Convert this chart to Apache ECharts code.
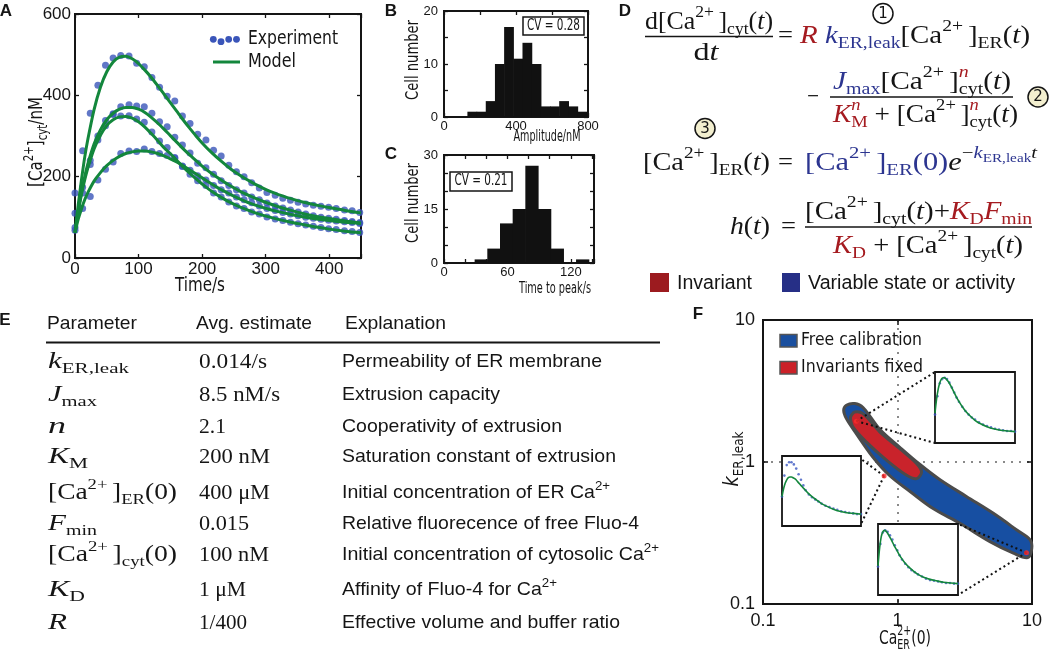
<!DOCTYPE html>
<html><head><meta charset="utf-8"><title>Ca2+ model figure</title>
<script src="https://cdn.jsdelivr.net/npm/echarts@6.0.0/dist/echarts.min.js"></script>
<style>html,body{margin:0;padding:0;background:#fff;}#chart{width:1050px;height:658px;}</style>
</head><body><div id="chart"></div>
<script>
// ================= DATA =================
// Panel A: experiment dots (4 cells) and model fits
const dotTime = [0,12,24,36,48,60,72,85,97,109,121,133,145,157,169,181,193,206,218,230,242,254,266,278,290,302,315,327,339,351,363,375,387,399,411,424,436,448];
const expTrace1 = [160,264,356,425,474,492,498,497,479,470,444,420,398,386,349,331,304,290,265,251,228,212,200,185,172,161,154,147,142,137,133,130,127,125,122,118,116,112];
const expTrace2 = [110,174,240,300,338,355,372,377,374,372,356,335,323,297,278,258,233,222,206,190,178,168,160,150,143,135,128,123,118,113,108,104,100,98,95,92,90,87];
const expTrace3 = [75,160,230,290,325,353,349,350,342,334,310,288,272,245,225,206,190,178,160,150,138,128,122,113,108,101,96,92,88,84,81,78,75,72,70,67,65,63];
const expTrace4 = [68,122,151,192,218,236,257,263,262,268,262,257,252,247,226,216,202,192,178,168,160,150,143,136,128,122,117,112,108,104,100,98,95,93,91,89,87,85];
const modelTime = [0,5,10,15,20,30,40,50,60,70,80,90,100,110,120,130,140,150,160,170,180,190,200,215,230,245,260,275,290,305,320,340,360,380,400,425,450];
const modelTrace1 = [62,130,190,245,290,365,420,458,482,494,496,490,478,462,444,424,403,382,361,340,320,301,283,259,238,219,203,189,176,165,156,146,137,130,124,117,111];
const modelTrace2 = [62,115,160,198,230,280,315,340,356,366,370,370,366,358,346,332,317,301,285,269,254,240,226,208,192,177,164,153,143,134,126,117,109,102,97,91,86];
const modelTrace3 = [62,112,155,190,220,268,302,326,340,347,348,344,335,322,306,289,271,257,240,224,209,195,182,164,149,136,125,116,108,101,95,88,82,76,71,66,62];
const modelTrace4 = [62,95,120,142,160,189,210,227,240,250,257,261,263,263,261,257,251,244,236,227,217,207,197,182,168,156,145,135,127,120,114,107,101,96,92,88,85];
const aXTickLabels = [0,100,200,300,400];
const aYTickLabels = [0,200,400,600];

// Panel B: amplitude histogram
const ampBinEdges = [130,181,232,283,334,385,436,487,538,589,640,691,742,793];
const ampCounts   = [1,1,3,10,17,11,14,10,2,2,3,2,1];
const bXTickLabels = [0,400,800];
const bYTickLabels = [0,10,20];
const ampCV = 'CV = 0.28';

// Panel C: time-to-peak histogram
const ttpBinEdges = [29,41,53,65,77,89,101,113,125,137];
const ttpCounts   = [1,4,11,15,27,15,4,0,1];
const cXTickLabels = [0,60,120];
const cYTickLabels = [0,15,30];
const ttpCV = 'CV = 0.21';

// Panel F: parameter regions (log-log)
const freeCalibrationOutline = [[0.398,2.31],[0.417,2.51],[0.481,2.58],[0.554,2.42],[0.738,1.70],[1.04,1.27],[1.47,0.96],[2.07,0.75],[3.27,0.57],[5.16,0.435],[7.71,0.332],[9.68,0.283],[9.95,0.245],[9.3,0.212],[7.27,0.228],[4.87,0.275],[2.91,0.37],[1.84,0.47],[1.24,0.62],[0.877,0.80],[0.658,1.08],[0.495,1.58],[0.417,2.02]];
const invariantsFixedOutline = [[0.447,2.02],[0.454,2.13],[0.481,2.25],[0.554,2.19],[0.738,1.63],[1.04,1.24],[1.39,0.974],[1.51,0.851],[1.39,0.764],[1.17,0.806],[0.828,1.03],[0.588,1.38],[0.467,1.76]];
const fittedPoints = [[0.495,1.94],[0.795,0.797],[9.1,0.23]];
const fTickLabels = ['0.1','1','10'];

// Panel F insets (normalised time 0-100, signal 0-100)
const insetTime    = [0,2,4,6,8,10,12,14,17,20,24,28,33,38,44,50,57,65,73,82,91,100];
const insetDotTime = [0,3,6,9,12,15,18,21,24,27,30,34,38,42,46,50,55,60,65,70,75,80,85,90,95,100];
const insetTopModel    = [42,62,76,85,90,92,92,90,86,80,71,62,53,45,38,32,27,23,20,18,17,16];
const insetTopExp      = [40,66,84,90,92,90,85,78,71,64,58,51,45,40,36,33,29,26,24,22,20,19,18,17,17,16];
const insetLeftModel   = [42,53,61,66,69,70,70,69,67,63,58,53,47,42,37,32,28,24,21,19,18,17];
const insetLeftExp     = [42,72,87,91,91,88,82,74,66,58,51,45,41,38,35,32,29,27,25,23,21,20,19,18,17,17];
const insetBottomModel = [41,66,82,89,91,90,87,83,77,70,62,54,46,40,34,29,25,22,20,18,17,16];
const insetBottomExp   = [40,72,88,91,89,84,78,70,63,56,50,44,39,35,32,29,26,23,21,20,19,18,17,17,16,16];

// Panel E: table
const tableHeaders = ['Parameter','Avg. estimate','Explanation'];
const tableValues = ['0.014/s','8.5 nM/s','2.1','200 nM','400 \u03bcM','0.015','100 nM','1 \u03bcM','1/400'];
const tableExplanations = ['Permeability of ER membrane','Extrusion capacity','Cooperativity of extrusion','Saturation constant of extrusion','Initial concentration of ER Ca^2+','Relative fluorecence of free Fluo-4','Initial concentration of cytosolic Ca^2+','Affinity of Fluo-4 for Ca^2+','Effective volume and buffer ratio'];

// ================= HELPERS =================
const FS = 'DejaVu Sans', FL = 'Liberation Sans', FM = 'Liberation Serif';
const BLUE_DOT = '#3a55b9', GREEN = '#13873c', RED_T = '#a51b20', BLUE_T = '#2c3590', INK = '#151515';
const cv = document.createElement('canvas'); const ctx = cv.getContext('2d');
const KIND = {
  n:{s:1,dy:0}, i:{s:1,dy:0,i:true},
  sup:{s:0.68,dy:-0.36}, supi:{s:0.68,dy:-0.36,i:true},
  sub:{s:0.68,dy:0.3}, subi:{s:0.68,dy:0.3,i:true},
  ssub:{s:0.5,dy:-0.16}
};
function measure(t, size, fam, it, bold){
  ctx.font = (it?'italic ':'') + (bold?'bold ':'') + size + 'px "' + fam + '"';
  return ctx.measureText(t).width;
}
function textRun(segs, o){
  let x = 0; const kids = [];
  segs.forEach(sg => {
    const parts = sg.stack ? sg.stack : [sg];
    let wmax = 0;
    parts.forEach(p => {
      const K = KIND[p.k || 'n'];
      const size = o.size * K.s;
      const w = measure(p.t, size, o.fam, K.i, o.bold);
      kids.push({type:'text', x:x, y:K.dy*o.size, silent:true, z:120, style:{
        text:p.t, fontSize:size, fontFamily:o.fam, fontStyle:K.i?'italic':'normal',
        fontWeight:o.bold?'bold':'normal', fill:p.c || o.color || INK,
        verticalAlign:'middle', align:'left'}});
      wmax = Math.max(wmax, w);
    });
    x += wmax;
  });
  const nat = x;
  const sx = o.w ? o.w / nat : 1;
  let ox = 0;
  if (o.align === 'center') ox = -nat/2; else if (o.align === 'right') ox = -nat;
  kids.forEach(k => { k.x += ox; });
  return {type:'group', x:o.x, y:o.y, scaleX:sx, rotation:o.rot || 0, children:kids, z:120};
}
const S = (t,k,c) => ({t, k, c});
function hline(x1,x2,y,w,c){ return {type:'line', silent:true, z:100, shape:{x1,y1:y,x2,y2:y}, style:{stroke:c||INK, lineWidth:w||1.3}}; }
function parseSup(str){
  const i = str.indexOf('^');
  return i < 0 ? [S(str)] : [S(str.slice(0,i)), S(str.slice(i+1),'sup')];
}

// ================= GRAPHIC (text, equations, table) =================
const G = [];
// panel letters
[['A',6,11],['B',391,11],['C',391,154],['D',625,11],['E',5,320],['F',698,314]].forEach(([t,x,y]) =>
  G.push(textRun([S(t)], {x, y, size:17, fam:FL, bold:true, align:'center'})));

// Panel A labels + legend
G.push(textRun([S('[Ca'),S('2+','sup'),S(']'),S('cyt','sub'),S('/nM')], {x:37, y:142, size:20, fam:FS, w:90, align:'center', rot:Math.PI/2}));
G.push(textRun([S('Time/s')], {x:200, y:286, size:19, fam:FS, w:50, align:'center'}));
[[213.3,39.3],[221,41.7],[228.7,39.3],[236.5,39.3]].forEach(([cx,cy]) =>
  G.push({type:'circle', z:100, shape:{cx,cy,r:3.4}, style:{fill:BLUE_DOT}}));
G.push(textRun([S('Experiment')], {x:248, y:39, size:19, fam:FS, w:90}));
G.push({type:'line', z:100, shape:{x1:213,y1:62,x2:240,y2:62}, style:{stroke:GREEN, lineWidth:3}});
G.push(textRun([S('Model')], {x:248, y:62, size:19, fam:FS, w:48}));

// Panel B / C labels
G.push(textRun([S('Cell number')], {x:414, y:60, size:17, fam:FS, w:80, align:'center', rot:Math.PI/2}));
G.push(textRun([S('Cell number')], {x:414, y:203, size:17, fam:FS, w:80, align:'center', rot:Math.PI/2}));
G.push(textRun([S('Amplitude/nM')], {x:547, y:136.5, size:16, fam:FS, w:67, align:'center'}));
G.push(textRun([S('Time to peak/s')], {x:555, y:289, size:16, fam:FS, w:72, align:'center'}));
G.push({type:'rect', z:100, shape:{x:523,y:17,width:61,height:18}, style:{fill:'#fff', stroke:INK, lineWidth:1.5}});
G.push(textRun([S(ampCV)], {x:553.5, y:26, size:15, fam:FS, w:53, align:'center'}));
G.push({type:'rect', z:100, shape:{x:450,y:172,width:62,height:19}, style:{fill:'#fff', stroke:INK, lineWidth:1.5}});
G.push(textRun([S(ttpCV)], {x:481, y:181.5, size:15, fam:FS, w:53, align:'center'}));

// Panel D equations
const M = 25;
G.push(textRun([S('d[Ca'),S('2+ ','sup'),S(']'),S('cyt','sub'),S('('),S('t','i'),S(')')], {x:645, y:22, size:M, fam:FM, w:128}));
G.push(hline(645,773,36.5,1.3));
G.push(textRun([S('d'),S('t','i')], {x:706, y:53, size:M, fam:FM, w:25, align:'center'}));
G.push(textRun([S('=')], {x:778, y:36, size:M, fam:FM, w:15}));
G.push(textRun([S('R','i',RED_T),S(' '),S('k','i',BLUE_T),S('ER,leak','sub',BLUE_T),S('[Ca'),S('2+ ','sup'),S(']'),S('ER','sub'),S('('),S('t','i'),S(')')], {x:800, y:36, size:M, fam:FM, w:230}));
G.push(textRun([S('\u2212')], {x:807, y:97, size:M, fam:FM, w:12}));
G.push(textRun([S('J','i',BLUE_T),S('max','sub',BLUE_T),S('[Ca'),S('2+ ','sup'),S(']'),{stack:[S('n','supi',RED_T),S('cyt','sub')]},S('('),S('t','i'),S(')')], {x:833, y:82, size:M, fam:FM, w:178}));
G.push(hline(830,1013,97,1.3));
G.push(textRun([S('K','i',RED_T),{stack:[S('n','supi',RED_T),S('M','sub',RED_T)]},S(' + '),S('[Ca'),S('2+ ','sup'),S(']'),{stack:[S('n','supi',RED_T),S('cyt','sub')]},S('('),S('t','i'),S(')')], {x:833, y:115, size:M, fam:FM, w:185}));
G.push(textRun([S('[Ca'),S('2+ ','sup'),S(']'),S('ER','sub'),S('('),S('t','i'),S(')')], {x:643, y:163, size:M, fam:FM, w:127}));
G.push(textRun([S('=')], {x:778, y:163, size:M, fam:FM, w:15}));
G.push(textRun([S('[Ca','n',BLUE_T),S('2+ ','sup',BLUE_T),S(']','n',BLUE_T),S('ER','sub',BLUE_T),S('(0)','n',BLUE_T),S('e','i'),S('\u2212','sup'),S('k','supi',BLUE_T),S('ER,leak','ssub',BLUE_T),S('t','supi')], {x:805, y:163, size:M, fam:FM, w:232}));
G.push(textRun([S('h','i'),S('('),S('t','i'),S(')')], {x:730, y:227, size:M, fam:FM, w:40}));
G.push(textRun([S('=')], {x:781, y:227, size:M, fam:FM, w:15}));
G.push(textRun([S('[Ca'),S('2+ ','sup'),S(']'),S('cyt','sub'),S('('),S('t','i'),S(')'),S('+'),S('K','i',RED_T),S('D','sub',RED_T),S('F','i',RED_T),S('min','sub',RED_T)], {x:805, y:212, size:M, fam:FM, w:227}));
G.push(hline(805,1032,227,1.3));
G.push(textRun([S('K','i',RED_T),S('D','sub',RED_T),S(' + '),S('[Ca'),S('2+ ','sup'),S(']'),S('cyt','sub'),S('('),S('t','i'),S(')')], {x:833, y:246, size:M, fam:FM, w:190}));
[[883,13.5,'1','#fff'],[1038,97,'2','#f3efcf'],[705,128.5,'3','#f3efcf']].forEach(([cx,cy,t,f]) => {
  G.push({type:'circle', z:100, shape:{cx,cy,r:10}, style:{fill:f, stroke:INK, lineWidth:1.5}});
  G.push(textRun([S(t)], {x:cx, y:cy+0.5, size:15, fam:FS, align:'center'}));
});
G.push({type:'rect', z:100, shape:{x:650,y:273,width:19,height:19}, style:{fill:'#9c1b1f'}});
G.push(textRun([S('Invariant')], {x:677, y:283, size:20, fam:FL, w:75}));
G.push({type:'rect', z:100, shape:{x:782,y:273,width:18,height:19}, style:{fill:'#262f86'}});
G.push(textRun([S('Variable state or activity')], {x:808, y:283, size:20, fam:FL, w:207}));

// Panel E table
const hx = [47,196,345], hw = [90,116,101];
tableHeaders.forEach((h,i) => G.push(textRun([S(h)], {x:hx[i], y:324, size:19, fam:FL, w:hw[i]})));
G.push(hline(46,660,342.5,2));
const rowY = [362,395,427,457,493,524,555,590,623];
const paramSegs = [
  [S('k','i'),S('ER,leak','sub')],
  [S('J','i'),S('max','sub')],
  [S('n','i')],
  [S('K','i'),S('M','sub')],
  [S('[Ca'),S('2+ ','sup'),S(']'),S('ER','sub'),S('(0)')],
  [S('F','i'),S('min','sub')],
  [S('[Ca'),S('2+ ','sup'),S(']'),S('cyt','sub'),S('(0)')],
  [S('K','i'),S('D','sub')],
  [S('R','i')]
];
const paramW = [81,49,18,40,129,49,129,37,19];
const valueW = [68,81,27,71,71,50,70,47,48];
const explW  = [260,158,220,274,268,297,317,215,278];
paramSegs.forEach((segs,i) => {
  G.push(textRun(segs, {x:48, y:rowY[i], size:23, fam:FM, w:paramW[i]}));
  G.push(textRun([S(tableValues[i])], {x:199, y:rowY[i], size:21, fam:FM, w:valueW[i]}));
  G.push(textRun(parseSup(tableExplanations[i]), {x:342, y:rowY[i], size:19, fam:FL, w:explW[i]}));
});

// Panel F labels + legend
G.push(textRun([S('k','i'),S('ER,leak','sub')], {x:733, y:459, size:21, fam:FS, w:55, align:'center', rot:Math.PI/2}));
G.push(textRun([S('Ca'),{stack:[S('2+','sup'),S('ER','sub')]},S('(0)')], {x:905, y:639, size:20, fam:FS, w:52, align:'center'}));
G.push({type:'rect', z:100, shape:{x:780,y:334.5,width:17,height:12.5}, style:{fill:'#1a4f9f', stroke:'#555', lineWidth:1.5}});
G.push(textRun([S('Free calibration')], {x:801, y:341, size:17, fam:FS, w:121}));
G.push({type:'rect', z:100, shape:{x:780,y:361.5,width:17,height:12.5}, style:{fill:'#cb2128', stroke:'#555', lineWidth:1.5}});
G.push(textRun([S('Invariants fixed')], {x:801, y:368, size:17, fam:FS, w:122}));

// ================= CHART =================
const gridBase = {show:true, borderColor:INK, borderWidth:2, backgroundColor:'rgba(255,255,255,0)', containLabel:false, outerBoundsMode:'none'};
const insetBoxes = [[935,372,80,71],[782,456,79,70],[878,524,80,71]];
const grids = [
  Object.assign({left:75, top:14, width:286, height:244}, gridBase),
  Object.assign({left:444, top:11, width:144, height:106}, gridBase),
  Object.assign({left:444, top:155, width:150, height:108}, gridBase),
  Object.assign({left:763, top:320, width:269, height:284}, gridBase)
];
insetBoxes.forEach(b => grids.push(Object.assign({}, gridBase, {left:b[0], top:b[1], width:b[2], height:b[3], backgroundColor:'#fff', borderWidth:1.8, z:20})));

function valAxis(grid, min, max, interval, labels, pos, fs, margin){
  const mirror = (pos === 'top' || pos === 'right');
  return {gridIndex:grid, type:'value', min, max, interval, position:pos,
    axisLine:{show:true, onZero:false, lineStyle:{color:INK, width:2}},
    axisTick:{show:true, inside:true, length:4, lineStyle:{color:INK, width:1.3}},
    axisLabel:{show:!mirror, fontFamily:FL, fontSize:fs, color:INK, margin:margin, showMaxLabel:true,
      formatter: v => labels.includes(v) ? String(v) : ''},
    splitLine:{show:false}};
}
function logAxis(pos){
  const mirror = (pos === 'top' || pos === 'right');
  return {gridIndex:3, type:'log', logBase:10, min:0.1, max:10, position:pos,
    axisLine:{show:true, onZero:false, lineStyle:{color:INK, width:2}},
    axisTick:{show:true, inside:true, length:5, lineStyle:{color:INK, width:1.5}},
    minorTick:{show:false},
    axisLabel:{show:!mirror, fontFamily:FL, fontSize:18, color:INK, margin:8,
      formatter: v => fTickLabels[Math.round(Math.log10(v)) + 1] || ''},
    splitLine:{show:!mirror, lineStyle:{color:'#8a8a8a', width:2, type:[2,6]}}};
}
const hiddenAxis = g => ({gridIndex:g, type:'value', min:0, max:100, show:false});

const xAxes = [
  valAxis(0,0,450,100,aXTickLabels,'bottom',17,3), valAxis(0,0,450,100,aXTickLabels,'top',17,3),
  valAxis(1,0,800,200,bXTickLabels,'bottom',13,3), valAxis(1,0,800,200,bXTickLabels,'top',13,3),
  valAxis(2,0,142,20,cXTickLabels,'bottom',13,3), valAxis(2,0,142,20,cXTickLabels,'top',13,3),
  logAxis('bottom'), hiddenAxis(4), hiddenAxis(5), hiddenAxis(6), logAxis('top')
];
const yAxes = [
  valAxis(0,0,600,200,aYTickLabels,'left',17,4), valAxis(0,0,600,200,aYTickLabels,'right',17,4),
  valAxis(1,0,20,5,bYTickLabels,'left',13,6), valAxis(1,0,20,5,bYTickLabels,'right',13,6),
  valAxis(2,0,30,5,cYTickLabels,'left',13,6), valAxis(2,0,30,5,cYTickLabels,'right',13,6),
  logAxis('left'), hiddenAxis(4), hiddenAxis(5), hiddenAxis(6), logAxis('right')
];

const series = [];
[expTrace1,expTrace2,expTrace3,expTrace4].forEach(tr => series.push({
  type:'scatter', xAxisIndex:0, yAxisIndex:0, symbolSize:7, z:2, silent:true,
  itemStyle:{color:BLUE_DOT}, data: dotTime.map((t,i) => [t, tr[i]])}));
[modelTrace1,modelTrace2,modelTrace3,modelTrace4].forEach(tr => series.push({
  type:'line', xAxisIndex:0, yAxisIndex:0, showSymbol:false, smooth:0.3, z:3, silent:true,
  lineStyle:{color:GREEN, width:3}, data: modelTime.map((t,i) => [t, tr[i]])}));

function histSeries(axis, edges, counts){
  const bins = counts.map((c,i) => [edges[i], edges[i+1], c]);
  return {type:'custom', xAxisIndex:axis, yAxisIndex:axis, silent:true, z:3,
    encode:{x:[0,1], y:2}, data:bins,
    renderItem:(params, api) => {
      if (api.value(2) <= 0) return null;
      const p0 = api.coord([api.value(0), api.value(2)]);
      const p1 = api.coord([api.value(1), 0]);
      return {type:'rect', shape:{x:p0[0], y:p0[1], width:p1[0]-p0[0]+0.6, height:p1[1]-p0[1]}, style:{fill:'#111'}};
    }};
}
series.push(histSeries(2, ampBinEdges, ampCounts));
series.push(histSeries(4, ttpBinEdges, ttpCounts));

function regionSeries(outline, fill, z){
  return {type:'custom', xAxisIndex:6, yAxisIndex:6, silent:true, z, data:[[1,1]],
    renderItem:(params, api) => ({type:'polygon',
      shape:{points: outline.map(p => api.coord(p)), smooth:0.35},
      style:{fill, stroke:'#4b4b4b', lineWidth:3}})};
}
series.push(regionSeries(freeCalibrationOutline, '#174fa2', 2));
series.push(regionSeries(invariantsFixedOutline, '#c9232b', 3));
const insetCorners = [
  [[insetBoxes[0][0], insetBoxes[0][1]], [insetBoxes[0][0], insetBoxes[0][1]+insetBoxes[0][3]]],
  [[insetBoxes[1][0]+insetBoxes[1][2], insetBoxes[1][1]+3], [insetBoxes[1][0]+insetBoxes[1][2], insetBoxes[1][1]+insetBoxes[1][3]-2]],
  [[insetBoxes[2][0]+insetBoxes[2][2], insetBoxes[2][1]], [insetBoxes[2][0]+insetBoxes[2][2], insetBoxes[2][1]+insetBoxes[2][3]]]
];
series.push({type:'custom', xAxisIndex:6, yAxisIndex:6, silent:true, z:4, data:fittedPoints,
  renderItem:(params, api) => {
    const p = api.coord([api.value(0), api.value(1)]);
    return {type:'group', children: insetCorners[params.dataIndex].map(c => ({type:'line',
      shape:{x1:p[0], y1:p[1], x2:c[0], y2:c[1]}, style:{stroke:'#111', lineWidth:2, lineDash:[2,3]}}))};
  }});
series.push({type:'scatter', xAxisIndex:6, yAxisIndex:6, silent:true, z:5, symbolSize:5,
  itemStyle:{color:'#ff2a2a'}, data:fittedPoints});

[[insetTopModel,insetTopExp],[insetLeftModel,insetLeftExp],[insetBottomModel,insetBottomExp]].forEach(([m,e],k) => {
  series.push({type:'scatter', xAxisIndex:7+k, yAxisIndex:7+k, silent:true, z:30, symbolSize:2.6,
    itemStyle:{color:'#3b57c0'}, data: insetDotTime.map((t,i) => [t, e[i]])});
  series.push({type:'line', xAxisIndex:7+k, yAxisIndex:7+k, silent:true, z:31, showSymbol:false, smooth:0.3,
    lineStyle:{color:GREEN, width:1.6}, data: insetTime.map((t,i) => [t, m[i]])});
});

const chart = echarts.init(document.getElementById('chart'), null, {renderer:'canvas'});
chart.setOption({
  animation:false, backgroundColor:'#fff',
  grid: grids, xAxis: xAxes, yAxis: yAxes, series: series, graphic: G
});
</script></body></html>
